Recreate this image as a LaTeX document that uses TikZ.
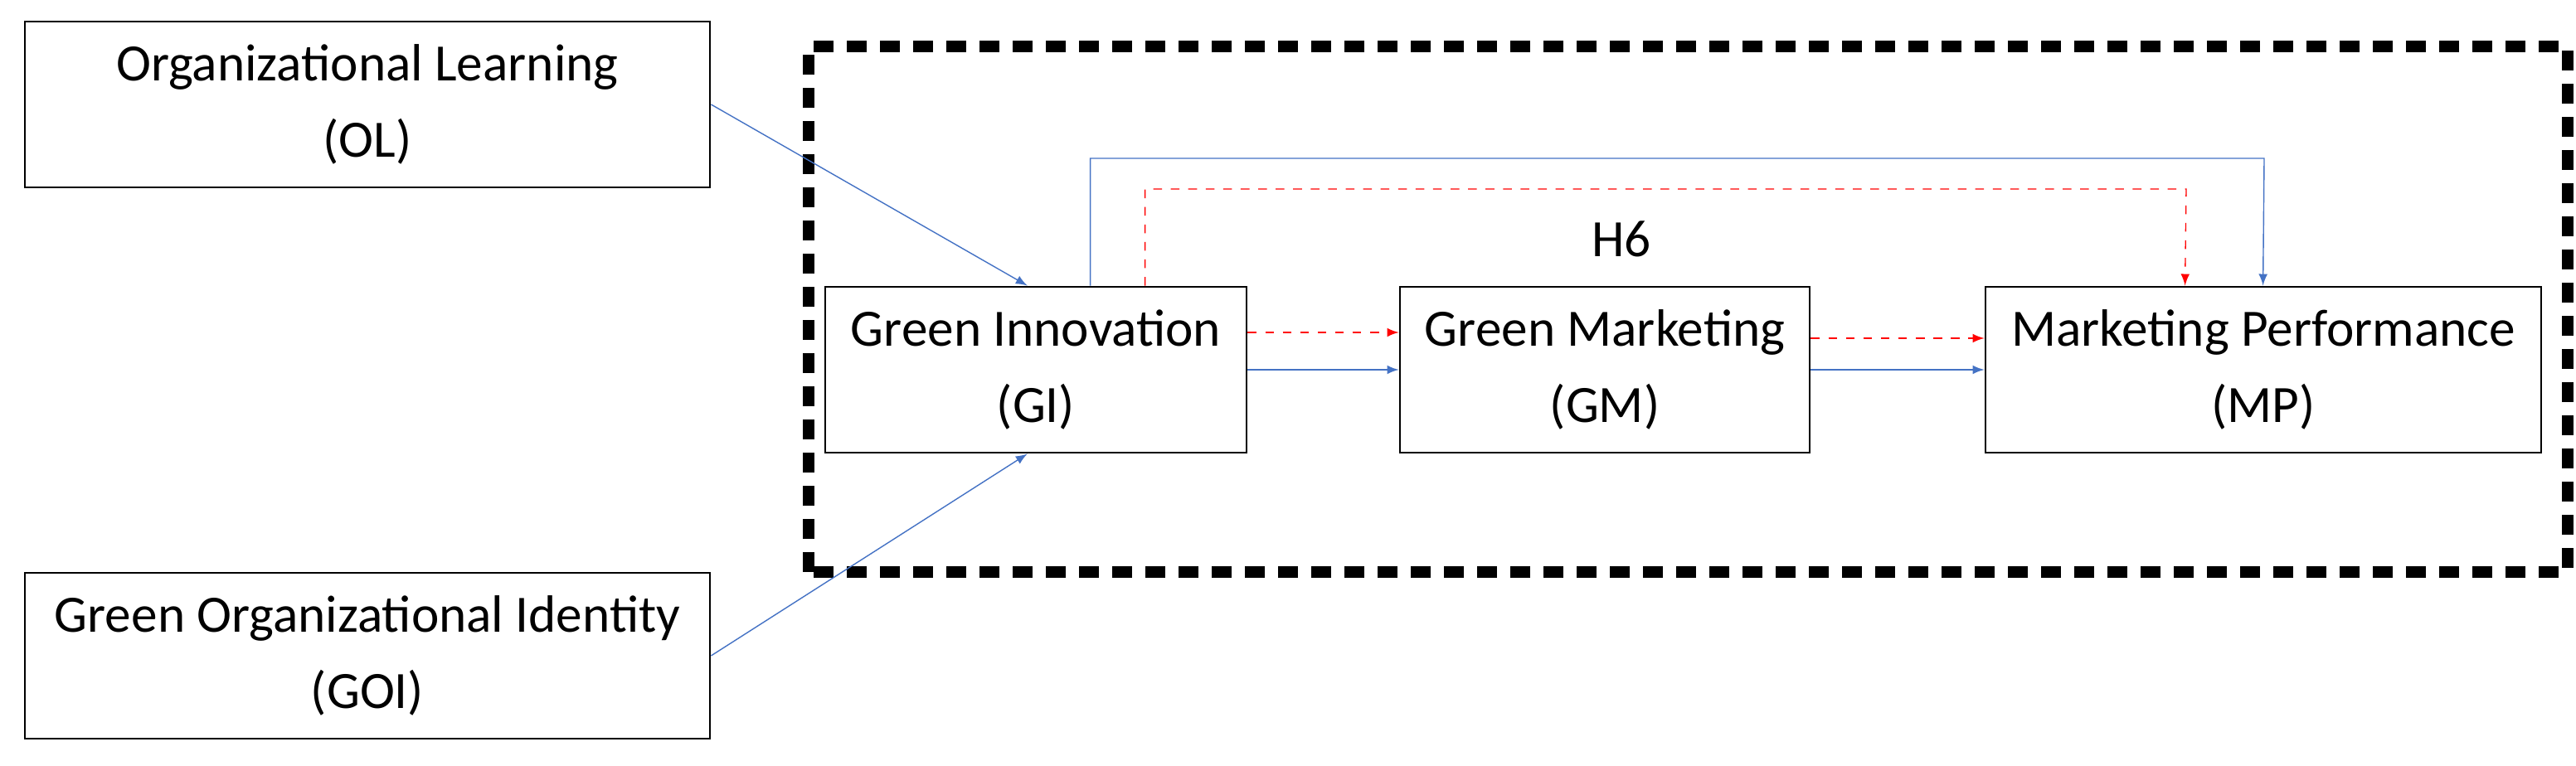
\documentclass[tikz,border=0pt]{standalone}
\usepackage{fontspec}
\setmainfont{Carlito}
\usetikzlibrary{arrows,calc}
\tikzset{>=latex}
\definecolor{pathblue}{HTML}{4472C4}
\tikzset{
  box/.style={draw, thick, align=center, minimum height=2cm, inner sep=0pt,
    font=\fontsize{18}{26}\selectfont},
  blue path/.style={pathblue, thin, ->},
  red path/.style={red, thin, dashed, ->}
}

\begin{document}
\begin{tikzpicture}
  \useasboundingbox (0,0) rectangle (31.06,9.24);

  \draw[line width=4pt, dash pattern=on 0.24cm off 0.16cm] (9.75,2.34) rectangle (30.96,8.68);

  \node[box, minimum width=8.26cm] (ol) at (4.43,7.98) {Organizational Learning\\(OL)};
  \node[box, minimum width=8.26cm] (goi) at (4.43,1.33) {Green Organizational Identity\\(GOI)};
  \node[box, minimum width=5.08cm] (gi) at (12.49,4.78) {Green Innovation\\(GI)};
  \node[box, minimum width=4.94cm] (gm) at (19.35,4.78) {Green Marketing\\(GM)};
  \node[box, minimum width=6.70cm] (mp) at (27.29,4.78) {Marketing Performance\\(MP)};

  \node[font=\fontsize{18}{24}\selectfont] (h6) at (19.55,6.36) {H6};

  \draw[blue path] (ol.east) -- ($(gi.north west)!0.48!(gi.north east)$);
  \draw[blue path] (goi.east) -- ($(gi.south west)!0.48!(gi.south east)$);

  \draw[red path] ($(gi.east)+(0,0.45)$) -- ($(gm.west)+(0,0.45)$);
  \draw[blue path] (gi.east) -- (gm.west);
  \draw[red path] ($(gm.east)+(0,0.38)$) -- ($(mp.west)+(0,0.38)$);
  \draw[blue path] (gm.east) -- (mp.west);

  \draw[blue path] ($(gi.north west)+(3.21,0)$) |- (27.30,7.33) -- ($(mp.north west)+(3.36,0)$);
  \draw[red path] ($(gi.north west)+(3.87,0)$) |- (26.36,6.96) -- ($(mp.north west)+(2.42,0)$);

\end{tikzpicture}
\end{document}
